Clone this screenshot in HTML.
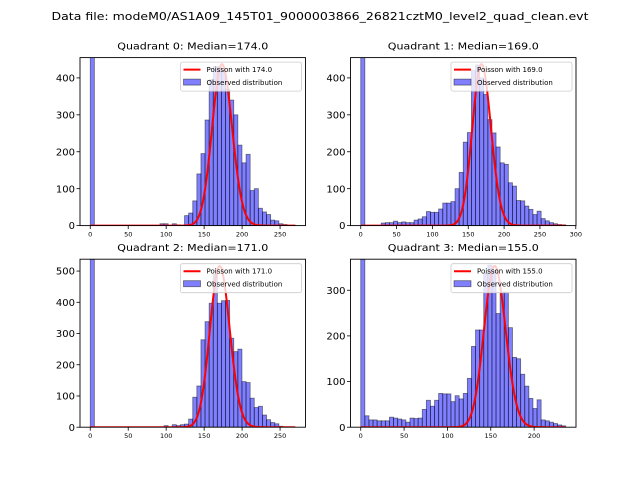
<!DOCTYPE html>
<html><head><meta charset="utf-8"><style>
html,body{margin:0;padding:0;background:#fff;}
svg{display:block;font-family:"DejaVu Sans","Liberation Sans",sans-serif;}
</style></head><body>
<svg id="fig" width="640" height="480" viewBox="0 0 640 480">
<rect width="640" height="480" fill="#fff"/>
<text x="320" y="20" text-anchor="middle" font-size="10.5" textLength="537" lengthAdjust="spacingAndGlyphs">Data file: modeM0/AS1A09_145T01_9000003866_26821cztM0_level2_quad_clean.evt</text>
</svg>
<script>
const q0Counts=[1500,0,0,0,0,0,0,0,0,0,0,0,0,0,0,0,0,5,5,0,5,2,0,27,34,67,140,195,286,395,430,430,420,370,340,300,218,170,193,95,100,47,37,30,15,13,5,3,1,1];
const q1Counts=[1500,0,0,0,0,7,8,8,12,8,10,8,8,15,18,24,38,36,36,45,61,61,65,100,144,226,252,420,435,400,355,287,251,213,170,166,116,107,68,67,53,44,30,39,19,13,8,5,3,2];
const q2Counts=[1500,0,0,0,0,0,0,0,0,0,0,0,0,0,0,0,0,0,5,0,8,5,8,10,26,96,132,280,338,397,490,397,405,406,285,242,250,146,143,93,63,67,39,24,15,11,3,1,1,0];
const q3Counts=[1500,25,16,16,14,14,14,22,20,18,16,11,20,19,20,39,59,46,59,74,73,73,56,69,62,74,107,177,213,213,337,355,344,249,296,296,218,153,150,116,90,63,41,60,16,14,11,8,5,3];
const dataMax=[270,286,270,236.5];
const medians=[174,169,171,155];
const poissonPeak=[437,437,516,353];
const yTicks0=[0,100,200,300,400];
const yTicks1=[0,100,200,300,400];
const yTicks2=[0,100,200,300,400,500];
const yTicks3=[0,100,200,300];
const xTicks0=[0,50,100,150,200,250];
const xTicks1=[0,50,100,150,200,250,300];
const xTicks2=[0,50,100,150,200,250];
const xTicks3=[0,50,100,150,200];
const yMax=[455,455,538,368];

const NS="http://www.w3.org/2000/svg";
const fig=document.getElementById('fig');
function mk(tag,attrs,parent){const e=document.createElementNS(NS,tag);for(const k in attrs)e.setAttribute(k,attrs[k]);(parent||fig).appendChild(e);return e;}
const panels=[
 {x:80,y:57.6,counts:q0Counts,yt:yTicks0,xt:xTicks0},
 {x:350.5,y:57.6,counts:q1Counts,yt:yTicks1,xt:xTicks1},
 {x:80,y:259.2,counts:q2Counts,yt:yTicks2,xt:xTicks2},
 {x:350.5,y:259.2,counts:q3Counts,yt:yTicks3,xt:xTicks3}];
const W=225.5,H=168;
function lgamma(z){ // Stirling series for z>=1
  if(z<7){let p=1;while(z<7){p*=z;z+=1;}return lgamma(z)-Math.log(p);}
  return (z-0.5)*Math.log(z)-z+0.5*Math.log(2*Math.PI)+1/(12*z)-1/(360*z*z*z);
}
panels.forEach((p,i)=>{
  const g=mk('g',{});
  
  
  const dm=dataMax[i],marg=dm*0.05;
  const x0=-marg,x1=dm+marg,ym=yMax[i];
  const sx=v=>p.x+(v-x0)/(x1-x0)*W;
  const sy=v=>p.y+H-v/ym*H;
  const cid='clip'+i;
  const cp=mk('clipPath',{id:cid},g);mk('rect',{x:p.x,y:p.y,width:W,height:H},cp);
  const title=mk('text',{x:p.x+W/2,y:p.y-8,'text-anchor':'middle','font-size':'9.6',textLength:151,lengthAdjust:'spacingAndGlyphs'},g);
  title.textContent='Quadrant '+i+': Median='+medians[i].toFixed(1);
  
  
  const bars=mk('g',{'clip-path':'url(#'+cid+')'},g);
  const bw=dm/p.counts.length;
  p.counts.forEach((c,k)=>{
    if(c<=0)return;
    const r=mk('rect',{x:sx(k*bw),y:sy(c),width:sx((k+1)*bw)-sx(k*bw),height:sy(0)-sy(c),fill:'rgba(0,0,255,0.5)',stroke:'rgba(0,0,0,0.5)','stroke-width':'0.8'},bars);
    
    
  });
  const lam=medians[i];
  const peakLog=Math.floor(lam)*Math.log(lam)-lam-lgamma(Math.floor(lam)+1);
  let d='';
  for(let k=0;k<=dm;k+=1){
    const lp=k*Math.log(lam)-lam-lgamma(k+1);
    const v=poissonPeak[i]*Math.exp(lp-peakLog);
    d+=(k===0?'M':'L')+sx(k).toFixed(2)+','+sy(v).toFixed(2);
  }
  const pl=mk('path',{d:d,fill:'none',stroke:'red','stroke-width':'2'},bars);
  
  
  const fr=mk('rect',{x:p.x,y:p.y,width:W,height:H,fill:'none',stroke:'#000','stroke-width':'0.9'},g);
  
  
  p.yt.forEach(t=>{
    const yy=sy(t);
    mk('line',{x1:p.x-3.5,x2:p.x,y1:yy,y2:yy,stroke:'#000','stroke-width':'0.8'},g);
    const tl=mk('text',{x:p.x-5,y:yy+3.6,'text-anchor':'end','font-size':'10'},g);
    tl.textContent=t;
    
    
  });
  p.xt.forEach(t=>{
    const xx=sx(t);
    mk('line',{x1:xx,x2:xx,y1:p.y+H,y2:p.y+H+3.5,stroke:'#000','stroke-width':'0.8'},g);
    const tl=mk('text',{x:xx,y:p.y+H+11,'text-anchor':'middle','font-size':'6.5'},g);
    tl.textContent=t;
    
    
  });
  const lg=mk('g',{},g);
  
  
  const lx=p.x+W-125,ly=p.y+4.5;
  mk('rect',{x:lx,y:ly,width:121,height:29,rx:2,fill:'rgba(255,255,255,0.8)',stroke:'#ccc','stroke-width':'0.8'},lg);
  mk('line',{x1:lx+3,x2:lx+20,y1:ly+7.5,y2:ly+7.5,stroke:'red','stroke-width':'2'},lg);
  const t1=mk('text',{x:lx+26,y:ly+10,'font-size':'7'},lg);
  t1.textContent='Poisson with '+medians[i].toFixed(1);
  
  
  mk('rect',{x:lx+3,y:ly+17,width:17,height:6,fill:'rgba(0,0,255,0.5)',stroke:'rgba(0,0,0,0.5)','stroke-width':'0.8'},lg);
  const t2=mk('text',{x:lx+26,y:ly+23,'font-size':'7'},lg);
  t2.textContent='Observed distribution';
  
  
});
</script>
</body></html>
